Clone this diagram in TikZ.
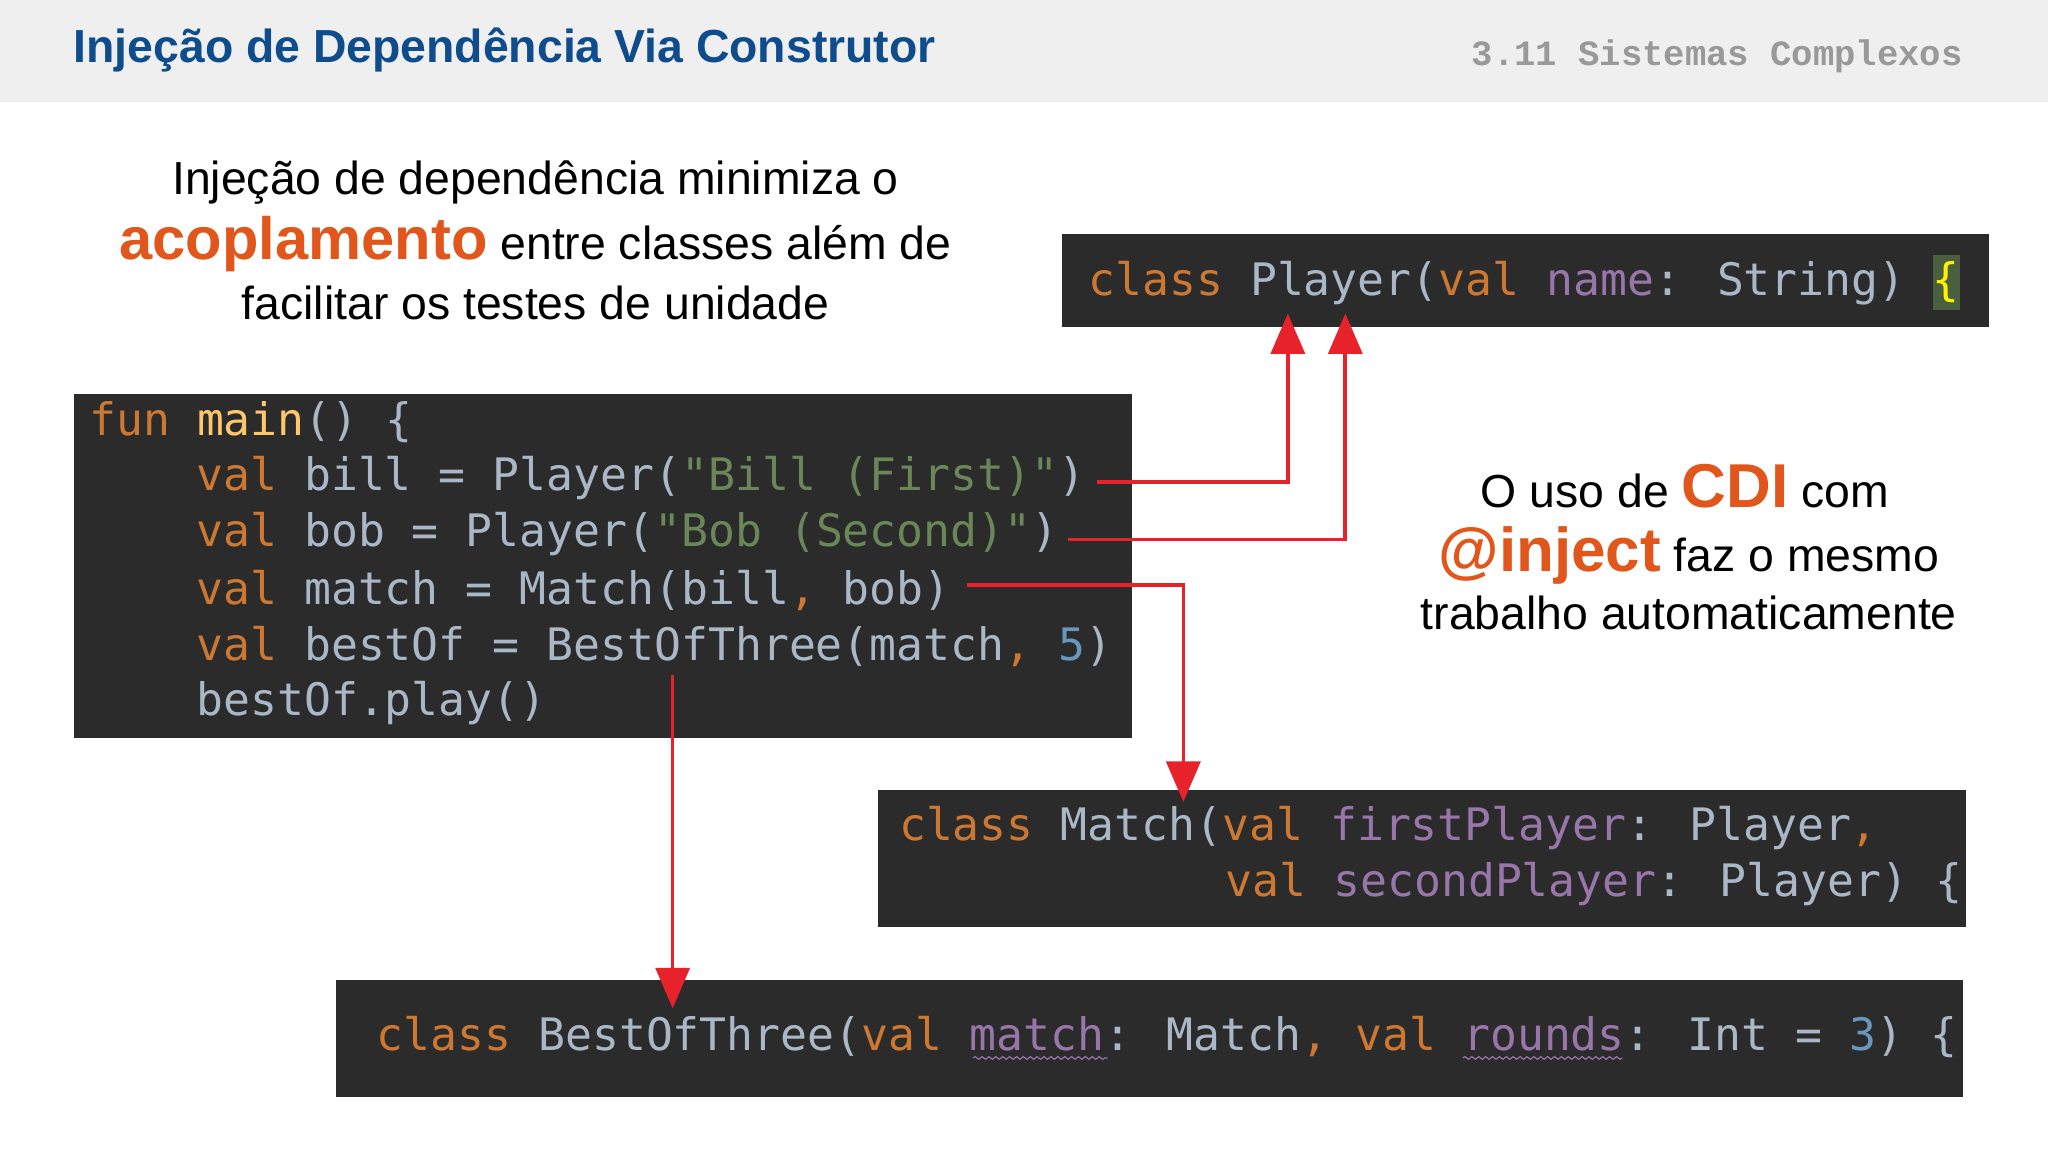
\documentclass[tikz,border=0pt]{standalone}
\usepackage{fontspec}
\setmainfont{Liberation Sans}
\newfontfamily\codefont{DejaVu Sans Mono}
\newfontfamily\hdrmono{Liberation Mono}
\usetikzlibrary{arrows.meta,decorations.pathmorphing}
\definecolor{hdrbg}{HTML}{EFEFEF}
\definecolor{ttlblue}{HTML}{0E4C8C}
\definecolor{accent}{HTML}{E0561B}
\definecolor{codebg}{HTML}{2B2B2B}
\definecolor{kw}{HTML}{CC7832}
\definecolor{pn}{HTML}{9876AA}
\definecolor{st}{HTML}{6A8759}
\definecolor{nm}{HTML}{6897BB}
\definecolor{tx}{HTML}{A9B7C6}
\definecolor{fn}{HTML}{FFC66D}
\definecolor{arr}{HTML}{E8222B}
\newcommand{\K}[1]{\textcolor{kw}{#1}}
\newcommand{\Pn}[1]{\textcolor{pn}{#1}}
\newcommand{\Sg}[1]{\textcolor{st}{#1}}
\newcommand{\Nm}[1]{\textcolor{nm}{#1}}
\begin{document}
\begin{tikzpicture}[x=0.02cm,y=-0.02cm,
  code/.style={anchor=west,inner sep=0pt,text=tx,font=\codefont\fontsize{19.5pt}{22pt}\selectfont},
  body/.style={font=\fontsize{20.2pt}{24pt}\selectfont,inner sep=0pt},
  wavy/.style={draw=pn,line width=0.5pt,decorate,decoration={snake,amplitude=0.6pt,segment length=3pt}},
  link/.style={draw=arr,line width=1.6pt,-{Triangle[length=0.62cm,width=0.52cm]}}]
\useasboundingbox (0,0) rectangle (1568,882);
\fill[white] (0,0) rectangle (1568,882);
\fill[hdrbg] (0,0) rectangle (1568,78);
\node[anchor=west,inner sep=0pt,text=ttlblue,font=\bfseries\fontsize{20.2pt}{22pt}\selectfont] (title) at (56,38) {Injeção de Dependência Via Construtor};
\node[anchor=east,inner sep=0pt,text=gray!80,font=\hdrmono\bfseries\fontsize{15.5pt}{18pt}\selectfont] (sect) at (1503,43) {3.11 Sistemas Complexos};
% left text
\node[body] (l1) at (410,140) {Injeção de dependência minimiza o};
\node[body] (l2) at (410,187) {\textcolor{accent}{\bfseries\fontsize{26pt}{28pt}\selectfont acoplamento} entre classes além de};
\node[body] (l3) at (410,232) {facilitar os testes de unidade};
% right text
\node[body] (r1) at (1290,372) {O uso de \textcolor{accent}{\bfseries\fontsize{27pt}{28pt}\selectfont CDI} com};
\node[body] (r2) at (1293,425) {\textcolor{accent}{\bfseries\fontsize{27pt}{28pt}\selectfont @inject} faz o mesmo};
\node[body] (r3) at (1293,469) {trabalho automaticamente};
% Player
\fill[codebg] (813,179) rectangle (1523,250);
\node[code] (p1) at (833,216) {\K{class} Player(\K{val} \Pn{name}: String) \colorbox{st!70!black}{\hspace*{-3pt}\textcolor{yellow}{\{}\hspace*{-3pt}}};
% main
\fill[codebg] (57,302) rectangle (867,565);
\node[code] (m1) at (68,323) {\K{fun} \textcolor{fn}{main}() \{};
\node[code] (m2) at (150,366) {\K{val} bill = Player(\Sg{"Bill (First)"})};
\node[code] (m3) at (150,409) {\K{val} bob = Player(\Sg{"Bob (Second)"})};
\node[code] (m4) at (150,452) {\K{val} match = Match(bill\K{,} bob)};
\node[code] (m5) at (150,495) {\K{val} bestOf = BestOfThree(match\K{,} \Nm{5})};
\node[code] (m6) at (150,538) {bestOf.play()};
% Match
\fill[codebg] (672,605) rectangle (1505,710);
\node[code] (c1) at (688,634) {\K{class} Match(\K{val} \Pn{firstPlayer}: Player\K{,}};
\node[code] (c2) at (938,677) {\K{val} \Pn{secondPlayer}: Player) \{};
% BestOfThree
\fill[codebg] (257,750) rectangle (1503,840);
\node[code] (b1) at (288,794) {\K{class} BestOfThree(\K{val} \Pn{match}: Match\K{,} \K{val} \Pn{rounds}: Int = \Nm{3}) \{};
\draw[wavy] (745,810) -- (848,810);
\draw[wavy] (1120,810) -- (1242,810);
% connectors
\coordinate (a1s) at (840,369); \coordinate (a1e) at (986,240);
\coordinate (a2s) at (818,413); \coordinate (a2e) at (1030,240);
\coordinate (a3s) at (740,448); \coordinate (a3e) at (906,614);
\coordinate (a4s) at (515,517); \coordinate (a4e) at (515,772);
\draw[link] (a1s) -| (a1e);
\draw[link] (a2s) -| (a2e);
\draw[link] (a3s) -| (a3e);
\draw[link] (a4s) -- (a4e);
\end{tikzpicture}
\end{document}
